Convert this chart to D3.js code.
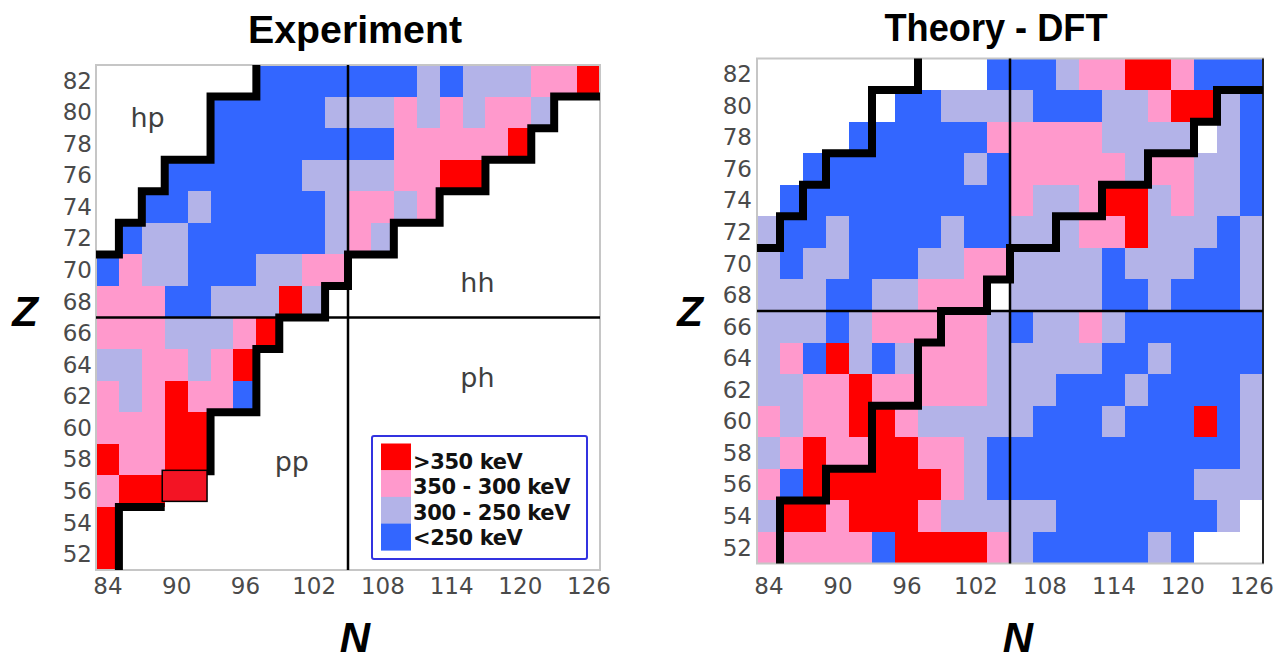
<!DOCTYPE html>
<html>
<head>
<meta charset="utf-8">
<script src="https://cdn.jsdelivr.net/npm/d3@7"></script>
<style>
  html, body { margin: 0; padding: 0; background: #fff; }
  svg { display: block; }
</style>
</head>
<body>
<svg id="chart" width="1281" height="660"></svg>
<script>
// Neutron numbers (columns) and proton numbers (rows, top to bottom)
const neutronNumbers = d3.range(84, 127, 2);
const protonNumbers = d3.range(82, 51, -2);
const neutronTicks = [84, 90, 96, 102, 108, 114, 120, 126];

// Pairing-gap classes: 1 = >350 keV, 2 = 350-300, 3 = 300-250, 4 = <250, 0 = no value
const energyClasses = [">350 keV", "350 - 300 keV", "300 - 250 keV", "<250 keV"];
const classColors = ["#ff0000", "#ff99cc", "#b3b3e8", "#3366ff"];

// Experiment, one row per Z (82 ... 52), one entry per N (84 ... 126)
const experimentRows = [
  [0,0,0,0,0,0,0,4,4,4,4,4,4,4,3,4,3,3,3,2,2,1],
  [0,0,0,0,0,4,4,4,4,4,3,3,3,2,3,2,3,2,2,3,0,0],
  [0,0,0,0,0,4,4,4,4,4,4,4,4,2,2,2,2,2,1,0,0,0],
  [0,0,0,4,4,4,4,4,4,3,3,3,3,2,2,1,1,0,0,0,0,0],
  [0,0,4,4,3,4,4,4,4,4,3,2,2,3,2,0,0,0,0,0,0,0],
  [0,4,3,3,4,4,4,4,4,4,3,2,3,0,0,0,0,0,0,0,0,0],
  [4,2,3,3,4,4,4,3,3,2,2,0,0,0,0,0,0,0,0,0,0,0],
  [2,2,2,4,4,3,3,3,1,3,0,0,0,0,0,0,0,0,0,0,0,0],
  [2,2,2,3,3,3,2,1,0,0,0,0,0,0,0,0,0,0,0,0,0,0],
  [3,3,2,2,3,2,1,0,0,0,0,0,0,0,0,0,0,0,0,0,0,0],
  [2,3,2,1,2,2,4,0,0,0,0,0,0,0,0,0,0,0,0,0,0,0],
  [2,2,2,1,1,0,0,0,0,0,0,0,0,0,0,0,0,0,0,0,0,0],
  [1,2,2,1,1,0,0,0,0,0,0,0,0,0,0,0,0,0,0,0,0,0],
  [2,1,1,1,1,0,0,0,0,0,0,0,0,0,0,0,0,0,0,0,0,0],
  [1,0,0,0,0,0,0,0,0,0,0,0,0,0,0,0,0,0,0,0,0,0],
  [1,0,0,0,0,0,0,0,0,0,0,0,0,0,0,0,0,0,0,0,0,0]
];

// Theory (DFT), same layout
const theoryRows = [
  [0,0,0,0,0,0,0,0,0,0,4,4,4,3,2,2,1,1,2,4,4,4],
  [0,0,0,0,0,0,4,4,3,3,3,3,4,4,4,3,3,2,1,1,3,4],
  [0,0,0,0,4,4,4,4,4,4,2,2,2,2,2,3,3,3,3,0,3,4],
  [0,0,4,4,4,4,4,4,4,3,4,2,2,2,2,2,3,2,2,3,3,4],
  [0,4,4,4,4,4,4,4,4,4,4,2,3,3,2,1,1,3,2,3,3,4],
  [3,4,4,3,4,4,4,4,3,4,4,3,3,3,2,2,1,3,3,3,4,3],
  [3,4,3,3,4,4,4,3,3,2,2,3,3,3,3,4,3,3,3,4,4,3],
  [3,3,3,4,4,3,3,2,2,2,0,3,3,3,3,4,4,3,4,4,4,3],
  [3,3,3,4,3,2,2,2,2,2,3,4,3,3,2,3,4,4,4,4,4,4],
  [3,2,4,1,3,4,3,2,2,2,3,3,3,3,3,4,4,3,4,4,4,4],
  [3,3,2,2,1,2,2,2,2,2,3,3,3,4,4,4,3,4,4,4,4,3],
  [2,3,2,2,1,1,2,3,3,3,3,3,4,4,4,3,4,4,4,1,4,3],
  [3,2,1,2,2,1,1,2,2,3,4,4,4,4,4,4,4,4,4,4,4,3],
  [2,4,1,1,1,1,1,1,2,3,4,4,4,4,4,4,4,4,4,3,3,3],
  [3,1,1,2,1,1,1,2,3,3,3,3,3,4,4,4,4,4,4,4,3,0],
  [2,2,2,2,2,4,1,1,1,1,2,3,4,4,4,4,4,3,4,0,0,0]
];

// Region borders, as (N, Z) corner points on cell edges
const holeParticleEdge = [[97,83],[97,81],[93,81],[93,77],[89,77],[89,75],[87,75],[87,73],[85,73],[85,71],[83,71]];
const holeHoleEdge = [[127,81],[123,81],[123,79],[121,79],[121,77],[117,77],[117,75],[113,75],[113,73],
  [109,73],[109,71],[105,71],[105,69],[103,69],[103,67],[99,67],[99,65],[97,65],[97,61],[93,61],
  [93,57],[89,57],[89,55],[85,55],[85,51]];

// Outlined pair of experimental cells (N 90-92, Z 56)
const highlightBox = { nFrom: 89, nTo: 93, zFrom: 57, zTo: 55 };

// Region names with their anchor points in (N, Z)
const regionLabels = [
  { text: "hp", n: 87.5, z: 79.1 },
  { text: "hh", n: 116.3, z: 68.6 },
  { text: "ph", n: 116.3, z: 62.6 },
  { text: "pp", n: 100.1, z: 57.3 }
];

const svg = d3.select("#chart");
const tickFont = "'DejaVu Sans', sans-serif";
const titleFont = "'Liberation Sans', Arial, sans-serif";

const panels = [
  { title: "Experiment", rows: experimentRows, left: 96, right: 600, top: 65, bottom: 570,
    titleX: 355, titleY: 43, titleLen: 214, zLabelX: 25, nLabelX: 355, xPad: 8, yPad: 4, experiment: true },
  { title: "Theory - DFT", rows: theoryRows, left: 757, right: 1263, top: 58.5, bottom: 563.5,
    titleX: 996, titleY: 41, titleLen: 223, zLabelX: 690, nLabelX: 1018, xPad: 14, yPad: 5, experiment: false }
];

const insideBox = (n, z, box) => n > box.nFrom && n < box.nTo && z < box.zFrom && z > box.zTo;

// Split a polyline, dropping segments that run along the outlined box
function splitEdge(points, box) {
  const onBox = p => (p[0] >= box.nFrom && p[0] <= box.nTo && p[1] <= box.zFrom && p[1] >= box.zTo);
  const parts = [];
  let cur = [points[0]];
  for (let i = 1; i < points.length; i++) {
    const a = points[i - 1], b = points[i];
    if (box && onBox(a) && onBox(b)) {
      if (cur.length > 1) parts.push(cur);
      cur = [b];
    } else {
      cur.push(b);
    }
  }
  if (cur.length > 1) parts.push(cur);
  return parts;
}

panels.forEach(p => {
  const x = d3.scaleLinear().domain([83, 127]).range([p.left, p.right]);
  const y = d3.scaleLinear().domain([83, 51]).range([p.top, p.bottom]);
  const g = svg.append("g");

  // cells (the outlined pair is drawn separately on top)
  const cells = [];
  p.rows.forEach((row, ri) => row.forEach((c, ci) => {
    const n = neutronNumbers[ci], z = protonNumbers[ri];
    if (c > 0 && !(p.experiment && insideBox(n, z, highlightBox))) cells.push({ n, z, c });
  }));
  g.append("g").attr("shape-rendering", "crispEdges")
    .selectAll("rect").data(cells).join("rect")
    .attr("x", d => x(d.n - 1))
    .attr("y", d => y(d.z + 1))
    .attr("width", d => x(d.n + 1) - x(d.n - 1))
    .attr("height", d => y(d.z - 1) - y(d.z + 1))
    .attr("fill", d => classColors[d.c - 1]);

  // frame
  g.append("rect")
    .attr("x", x(83)).attr("y", y(83))
    .attr("width", x(127) - x(83)).attr("height", y(51) - y(83))
    .attr("fill", "none").attr("stroke", "#c6c6c6").attr("stroke-width", 2);
  if (!p.experiment) {
    g.append("line").attr("x1", x(127)).attr("x2", x(127)).attr("y1", y(83)).attr("y2", y(51))
      .attr("stroke", "#222").attr("stroke-width", 2);
  }

  // shell-closure cross lines (N = 104/106, Z = 66/68)
  g.append("line").attr("x1", x(105)).attr("x2", x(105)).attr("y1", y(83)).attr("y2", y(51))
    .attr("stroke", "#000").attr("stroke-width", 2.5);
  g.append("line").attr("x1", x(83)).attr("x2", x(127)).attr("y1", y(67)).attr("y2", y(67))
    .attr("stroke", "#000").attr("stroke-width", 2.5);

  // region borders
  const edgeLine = d3.line().x(d => x(d[0])).y(d => y(d[1]));
  const edgeParts = [holeParticleEdge].concat(splitEdge(holeHoleEdge, p.experiment ? highlightBox : null));
  g.selectAll("path.edge").data(edgeParts).join("path")
    .attr("class", "edge")
    .attr("d", edgeLine)
    .attr("fill", "none").attr("stroke", "#000").attr("stroke-width", 8)
    .attr("stroke-linejoin", "miter").attr("stroke-linecap", "butt");

  if (p.experiment) {
    // outlined cell pair
    g.append("rect")
      .attr("x", x(highlightBox.nFrom) - 2.5)
      .attr("y", y(highlightBox.zFrom) - 5)
      .attr("width", x(highlightBox.nTo) - x(highlightBox.nFrom) - 1)
      .attr("height", y(highlightBox.zTo) - y(highlightBox.zFrom) - 0.5)
      .attr("fill", "#f31424").attr("stroke", "#000").attr("stroke-width", 1.5);

    // region names
    g.selectAll("text.region").data(regionLabels).join("text")
      .attr("class", "region")
      .attr("x", d => x(d.n)).attr("y", d => y(d.z))
      .attr("text-anchor", "middle")
      .attr("font-family", tickFont).attr("font-size", 27)
      .attr("fill", "#3f3f3f")
      .text(d => d.text);

    // legend
    const lg = g.append("g").attr("transform", "translate(372,436)");
    lg.append("rect").attr("x", 0).attr("y", 0).attr("width", 215).attr("height", 123)
      .attr("rx", 2).attr("fill", "#fff").attr("stroke", "#3333e0").attr("stroke-width", 2);
    const sw = 26.7;
    lg.selectAll("rect.sw").data(energyClasses).join("rect")
      .attr("class", "sw")
      .attr("x", 9).attr("y", (d, i) => 7.5 + i * sw)
      .attr("width", 30).attr("height", sw + 0.3)
      .attr("fill", (d, i) => classColors[i]);
    lg.selectAll("text").data(energyClasses).join("text")
      .attr("x", 41).attr("y", (d, i) => 33 + i * 25.3)
      .attr("font-family", tickFont).attr("font-weight", "bold").attr("font-size", 21)
      .attr("letter-spacing", -0.4)
      .attr("fill", "#111")
      .text(d => d);
  }

  // axes
  const xAxis = d3.axisBottom(x).tickValues(neutronTicks).tickSize(0).tickPadding(p.xPad);
  const yAxis = d3.axisLeft(y).tickValues(protonNumbers).tickSize(0).tickPadding(p.yPad);
  const gx = g.append("g").attr("transform", `translate(0,${y(51)})`).call(xAxis);
  const gy = g.append("g").attr("transform", `translate(${x(83)},0)`).call(yAxis);
  [gx, gy].forEach(a => {
    a.select(".domain").remove();
    a.selectAll("text").attr("font-family", tickFont).attr("font-size", 23).attr("fill", "#4a4a4a");
  });

  // axis titles
  g.append("text").attr("x", p.zLabelX).attr("y", 326)
    .attr("text-anchor", "middle")
    .attr("font-family", titleFont)
    .attr("font-weight", "bold").attr("font-style", "italic").attr("font-size", 42)
    .attr("fill", "#000").text("Z");
  g.append("text").attr("x", p.nLabelX).attr("y", 652)
    .attr("text-anchor", "middle")
    .attr("font-family", titleFont)
    .attr("font-weight", "bold").attr("font-style", "italic").attr("font-size", 42)
    .attr("fill", "#000").text("N");

  // panel title
  g.append("text").attr("x", p.titleX).attr("y", p.titleY)
    .attr("text-anchor", "middle")
    .attr("font-family", titleFont)
    .attr("font-weight", "bold").attr("font-size", 39)
    .attr("textLength", p.titleLen).attr("lengthAdjust", "spacingAndGlyphs")
    .attr("fill", "#000").text(p.title);
});
</script>
</body>
</html>
